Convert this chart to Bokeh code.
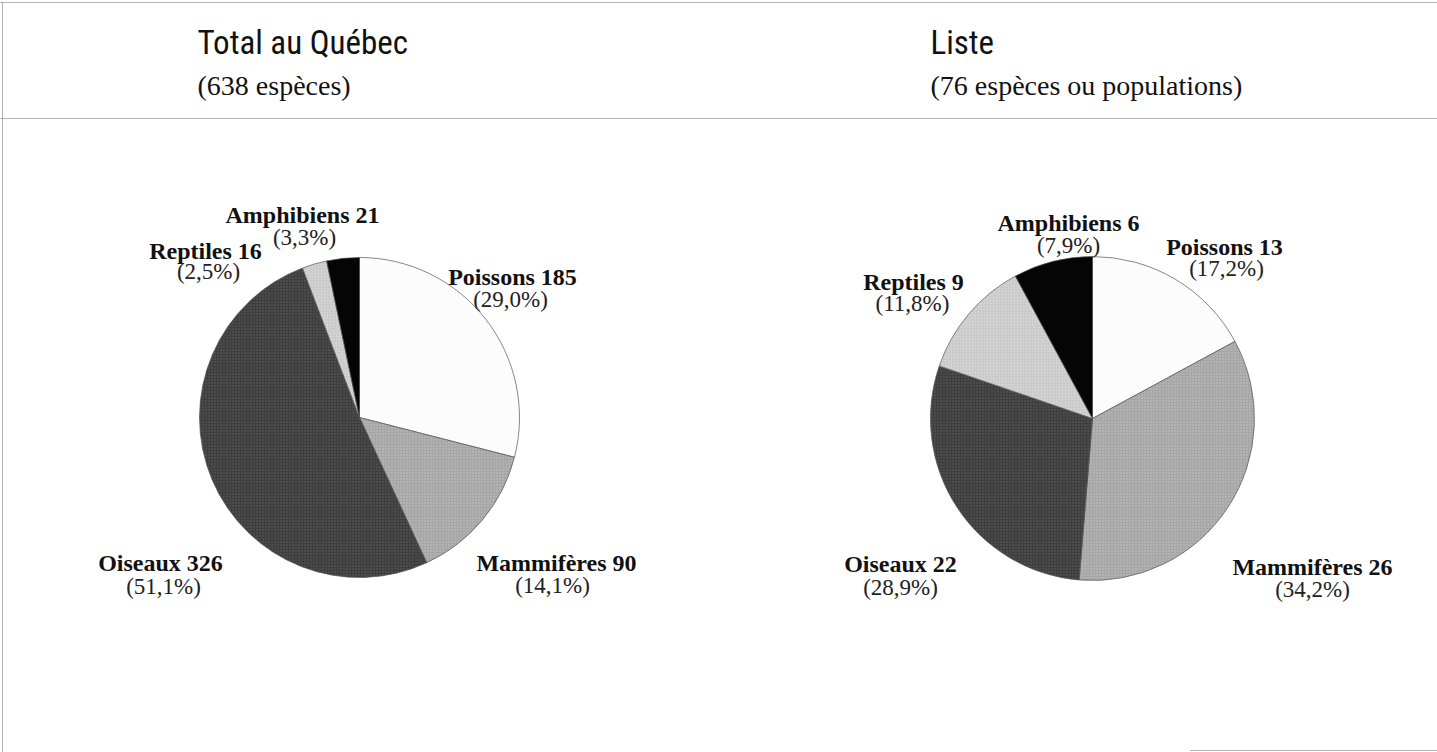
import math
from bokeh.plotting import figure
from bokeh.models import Range1d, ColumnDataSource
from bokeh.core.properties import value
from bokeh.embed import file_html
from bokeh.resources import INLINE

# ---- data ----
categories = ["Poissons", "Mammifères", "Oiseaux", "Reptiles", "Amphibiens"]
counts_total = [185, 90, 326, 16, 21]
pct_total = ["29,0%", "14,1%", "51,1%", "2,5%", "3,3%"]
counts_liste = [13, 26, 22, 9, 6]
pct_liste = ["17,2%", "34,2%", "28,9%", "11,8%", "7,9%"]
titles = ["Total au Québec", "Liste"]
subtitles = ["(638 espèces)", "(76 espèces ou populations)"]

# ---- style ----
fills = ["#fcfcfc", "#a6a6a6", "#3e3e3e", "#d2d2d2", "#050505"]
hatch_colors = ["#cccccc", "#e6e6e6", "#8a8a8a", "#9a9a9a", "#050505"]
hatch_alphas = [0.0, 0.45, 0.45, 0.4, 0.0]
hatch_scales = [9, 3, 3, 3, 3]
W, H = 1437, 752
SERIF = "Liberation Serif"
NARROW = "Roboto Condensed, DejaVu Sans Condensed, sans-serif"

p = figure(width=W, height=H, output_backend="svg", toolbar_location=None,
           x_range=Range1d(0, W), y_range=Range1d(0, H),
           min_border=0, outline_line_color=None)
p.axis.visible = False
p.grid.visible = False
p.background_fill_color = "white"

def Y(sy):
    return H - sy

# frame lines (scanned box)
p.segment(x0=[0, 0, 2, 1190], y0=[Y(2), Y(118), Y(2), Y(750)],
          x1=[W, W, 2, W], y1=[Y(2), Y(118), Y(752), Y(750)],
          line_color="#666666", line_width=1, line_dash="1 1")

pies = [
    dict(counts=counts_total, pct=pct_total, cx=359, cy=417, r=160,
         title_x=197,
         name_pos=[(512, 276), (556, 562), (160, 562), (205, 250), (302, 214)],
         pct_pos=[(510, 299), (552, 585), (163, 586), (208, 271), (304, 237)]),
    dict(counts=counts_liste, pct=pct_liste, cx=1092, cy=418, r=162,
         title_x=930,
         name_pos=[(1224, 246), (1312, 566), (900, 563), (913, 281), (1068, 222)],
         pct_pos=[(1226, 268), (1312, 589), (900, 587), (912, 303), (1068, 245)]),
]

for i, pie in enumerate(pies):
    total = sum(pie["counts"])
    starts, ends = [], []
    cum = 0.0
    for c in pie["counts"]:
        a0 = math.pi / 2 - 2 * math.pi * cum / total
        cum += c
        a1 = math.pi / 2 - 2 * math.pi * cum / total
        starts.append(a0)
        ends.append(a1)
    src = ColumnDataSource(dict(x=[pie["cx"]] * 5, y=[Y(pie["cy"])] * 5,
                                start=starts, end=ends, color=fills,
                                hcolor=hatch_colors, halpha=hatch_alphas,
                                hscale=hatch_scales))
    p.wedge(x="x", y="y", radius=pie["r"], start_angle="start", end_angle="end",
            direction="clock", fill_color="color", line_color="#555555",
            line_width=0.7, hatch_pattern="dot", hatch_color="hcolor",
            hatch_alpha="halpha", hatch_scale="hscale", hatch_weight=1,
            source=src)

    # labels
    names = [f"{cat} {n}" for cat, n in zip(categories, pie["counts"])]
    p.text(x=[xy[0] for xy in pie["name_pos"]], y=[Y(xy[1]) for xy in pie["name_pos"]],
           text=names, text_font=value(SERIF), text_font_style="bold",
           text_font_size="24px", text_align="center", text_baseline="middle",
           text_color="#111111")
    p.text(x=[xy[0] for xy in pie["pct_pos"]], y=[Y(xy[1]) for xy in pie["pct_pos"]],
           text=[f"({s})" for s in pie["pct"]],
           text_font=value(SERIF), text_font_size="23px", text_align="center",
           text_baseline="middle", text_color="#222222")

    # titles
    p.text(x=[pie["title_x"]], y=[Y(42)], text=[titles[i]], text_font=value(NARROW),
           text_font_size="33px", text_align="left", text_baseline="middle",
           text_color="#111111")
    p.text(x=[pie["title_x"]], y=[Y(85)], text=[subtitles[i]], text_font=value(SERIF),
           text_font_size="28px", text_align="left", text_baseline="middle",
           text_color="#111111")

open("out.html", "w").write(file_html(p, INLINE))
